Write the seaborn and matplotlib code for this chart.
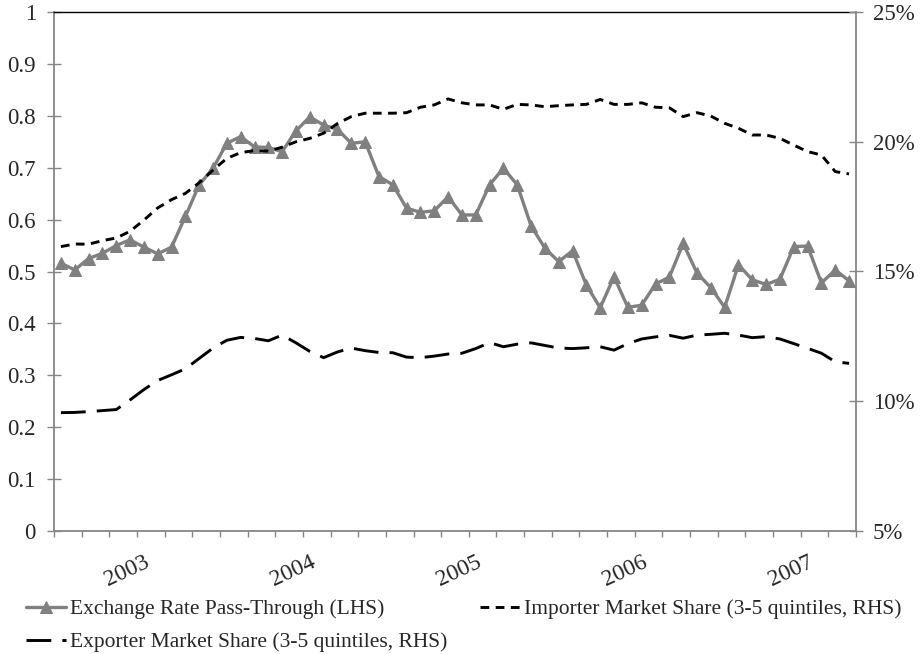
import numpy as np
import pandas as pd
import seaborn as sns
import matplotlib.pyplot as plt
from matplotlib.ticker import FuncFormatter, FixedLocator

# monthly observations, Jul 2002 - Apr 2007
months = pd.date_range("2002-07-01", periods=58, freq="MS")

# exchange rate pass-through (left axis)
pass_through = [0.516, 0.503, 0.525, 0.535, 0.550, 0.561, 0.547, 0.534, 0.547, 0.606,
                0.667, 0.699, 0.747, 0.760, 0.740, 0.739, 0.731, 0.771, 0.798, 0.782,
                0.774, 0.747, 0.750, 0.683, 0.667, 0.622, 0.614, 0.617, 0.644, 0.609,
                0.609, 0.667, 0.699, 0.667, 0.588, 0.545, 0.519, 0.540, 0.474, 0.430,
                0.490, 0.431, 0.435, 0.476, 0.489, 0.554, 0.497, 0.469, 0.431, 0.513,
                0.484, 0.475, 0.485, 0.548, 0.549, 0.478, 0.503, 0.482]

# market shares in percent (right axis)
importer_share = [15.96, 16.06, 16.05, 16.19, 16.29, 16.55, 16.98, 17.45, 17.77, 18.01,
                  18.42, 18.91, 19.36, 19.58, 19.66, 19.64, 19.79, 20.00, 20.13, 20.33,
                  20.70, 20.97, 21.10, 21.10, 21.10, 21.12, 21.33, 21.42, 21.65, 21.50,
                  21.42, 21.42, 21.25, 21.44, 21.42, 21.35, 21.39, 21.42, 21.44, 21.63,
                  21.44, 21.44, 21.50, 21.33, 21.31, 20.97, 21.12, 20.99, 20.71, 20.52,
                  20.26, 20.26, 20.13, 19.87, 19.62, 19.49, 18.85, 18.76]

exporter_share = [9.56, 9.57, 9.60, 9.64, 9.68, 10.05, 10.45, 10.80, 11.02, 11.25,
                  11.65, 12.05, 12.35, 12.46, 12.42, 12.33, 12.55, 12.25, 11.92, 11.68,
                  11.90, 12.05, 11.95, 11.88, 11.87, 11.70, 11.68, 11.74, 11.82, 11.85,
                  12.03, 12.26, 12.10, 12.20, 12.25, 12.15, 12.05, 12.03, 12.06, 12.10,
                  11.97, 12.22, 12.40, 12.48, 12.54, 12.43, 12.55, 12.58, 12.62, 12.55,
                  12.45, 12.49, 12.40, 12.22, 12.04, 11.85, 11.52, 11.46]

labels = ["Exchange Rate Pass-Through (LHS)",
          "Importer Market Share (3-5 quintiles, RHS)",
          "Exporter Market Share (3-5 quintiles, RHS)"]

sns.set_style("white")
plt.rcParams["font.family"] = ["Liberation Serif", "DejaVu Serif"]

axis_gray = "#868686"
line_gray = "#808080"

x = np.arange(len(months))
fig = plt.figure(figsize=(9.21, 6.54), dpi=100)
ax = fig.add_axes([54 / 921, 123 / 654, 802 / 921, 519 / 654])

sns.lineplot(x=x, y=pass_through, ax=ax, color=line_gray, lw=2.4, marker="^",
             markersize=8.5, markeredgecolor=line_gray, label=labels[0])

ax2 = ax.twinx()
sns.lineplot(x=x, y=importer_share, ax=ax2, color="black", lw=2.1,
             linestyle=(0, (3.0, 2.2)), label=labels[1])
sns.lineplot(x=x, y=exporter_share, ax=ax2, color="black", lw=2.1,
             linestyle=(0, (8.5, 3.8)), label=labels[2])

h1, _ = ax.get_legend_handles_labels()
h2, _ = ax2.get_legend_handles_labels()
ax.get_legend().remove()
ax2.get_legend().remove()

ax.set_xlim(-0.5, len(months) - 0.5)
ax.set_ylim(0, 1)
ax2.set_ylim(5, 25)

# left axis
ax.yaxis.set_major_locator(FixedLocator(np.arange(0, 1.01, 0.1)))
ax.yaxis.set_major_formatter(FuncFormatter(lambda v, p: f"{v:.1f}".rstrip("0").rstrip(".")))
ax.tick_params(axis="y", direction="inout", length=10, width=1, color=axis_gray,
               labelsize=16.5, pad=8, left=True)

# right axis
ax2.yaxis.set_major_locator(FixedLocator([5, 10, 15, 20, 25]))
ax2.yaxis.set_major_formatter(FuncFormatter(lambda v, p: f"{v:.0f}%"))
ax2.tick_params(axis="y", direction="inout", length=10, width=1, color=axis_gray,
                labelsize=16.5, pad=7, right=True)

# x axis: year labels at January, tick marks every two months
jan = x[months.month == 1]
ax.set_xticks(jan)
ax.set_xticklabels(months[months.month == 1].year.astype(str), rotation=25,
                   ha="right", va="top", rotation_mode="anchor", fontsize=17)
ax.tick_params(axis="x", which="major", length=0, pad=15)
ax.set_xticks(np.arange(-0.5, len(months), 2), minor=True)
ax.tick_params(axis="x", which="minor", direction="out", length=4.5, width=1,
               color=axis_gray, bottom=True)

ax.grid(False)
ax2.grid(False)
for s in ["left", "bottom"]:
    ax.spines[s].set_color(axis_gray)
    ax.spines[s].set_linewidth(1.3)
ax.spines["top"].set_color("black")
ax.spines["top"].set_linewidth(1.0)
ax.spines["right"].set_visible(False)
for s in ["left", "bottom", "top"]:
    ax2.spines[s].set_visible(False)
ax2.spines["right"].set_color(axis_gray)
ax2.spines["right"].set_linewidth(1.3)

fig.legend(handles=[h1[0], h2[1], h2[0]], labels=[labels[0], labels[2], labels[1]],
           ncol=2, loc="upper left", bbox_to_anchor=(26 / 921, 1 - 599 / 654),
           frameon=False, fontsize=15.5, handlelength=1.85, handletextpad=0.2,
           columnspacing=1.5, labelspacing=0.6, borderaxespad=0, borderpad=0)

fig.savefig("out.png", dpi=100)
